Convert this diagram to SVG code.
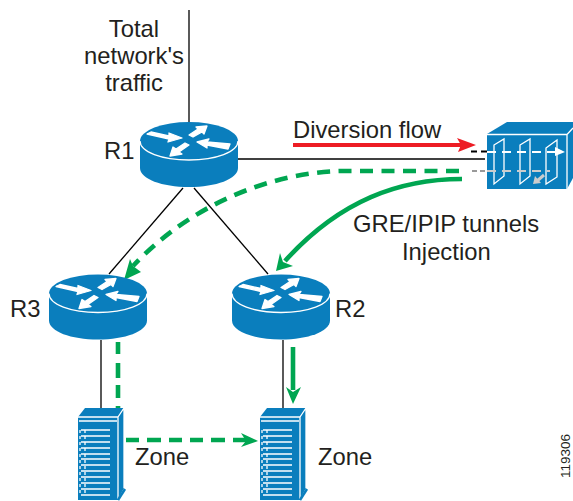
<svg xmlns="http://www.w3.org/2000/svg" width="573" height="501" viewBox="0 0 573 501">
<style>
text{font-family:"Liberation Sans",Arial,sans-serif;font-size:23.8px;fill:#231f20}
.m{text-anchor:middle}
.l{stroke:#000;stroke-width:1.3;fill:none}
.g{stroke:#00a651;stroke-width:4.600;fill:none}
.d{stroke-dasharray:13 8.500}
.b{fill:#0a7ebd}
.w{fill:#fff;stroke:#fff;stroke-width:1.300;stroke-linejoin:round}
.wl{stroke:#fff;stroke-width:1.3;fill:none}
.f{fill:#00a651}
</style>
<defs>
<g id="router">
<path class="b" d="M-49 0V27C-49 38-27 46 0 46S49 38 49 27V0Z"/>
<ellipse class="b" cx="0" cy="0" rx="49" ry="19"/>
<path class="wl" d="M-49 0C-49 11-27 19 0 19S49 11 49 0"/>
<path class="w" d="M-42-7L-38-9-20-5-20-8-7-3-21 1-20-2Z"/>
<path class="w" d="M0-6L4-4 13-9 15-7 18-15 7-14 9-12Z"/>
<path class="w" d="M8 1L20-2 18 1 41 3 39 8 18 4 18 7Z"/>
<path class="w" d="M-19 15L-16 6-13 8-4 2 0 4-10 11-7 13Z"/>
</g>
<g id="server">
<path class="b" d="M0 9L7 0H46L40 9Z"/>
<path class="b" d="M40 9L46 0V80L40 91Z"/>
<rect class="b" y="9" width="40" height="83"/>
<path class="wl" d="M0 9H40V91M40 9L46 0M46 0V80M1 13H39"/>
<path class="wl" d="M3 22H32M3 28H32M3 34H32M3 40H32M3 46H32M3 51H32M3 57H32M3 63H32M3 69H32M3 75H32M3 81H32M3 87H32"/>
<path class="wl" d="M2 22V87M7 22V87" stroke-dasharray="3 3"/>
<path d="M40 92L47 81" stroke="#0a7ebd" stroke-width="2.500" fill="none"/>
</g>
</defs>
<g id="connectors">
<path class="l" d="M189 10V124"/>
<path class="l" d="M238 159H485"/>
<path class="l" d="M183 188L109 274"/>
<path class="l" d="M194 188L268 274"/>
<path class="l" d="M101 340V408"/>
<path class="l" d="M283 340V408"/>
<path d="M293 145H462" stroke="#ed1c24" stroke-width="4.200" fill="none"/>
<path d="M476 145L457 138 461 145 458 152Z" fill="#ed1c24"/>
<path d="M471 151.500H488" stroke="#000" stroke-width="2" stroke-dasharray="6 4" fill="none"/>
<path d="M472 171H488" stroke="#999" stroke-width="2" stroke-dasharray="5 3" fill="none"/>
<path d="M209 195L214 201" stroke="#fff" stroke-width="9" fill="none"/>
<path class="g d" d="M459 171H340C270 173 190 205 133 266"/>
<path class="f" d="M124 280L130 259 133 266 141 272Z"/>
<path class="g" d="M462 179C400 179 340 200 285 261"/>
<path class="f" d="M276 271L280 253 283 262 293 266Z"/>
<path class="g" d="M118 342V354M118 363V378M118 385V398M118 406V408"/>
<path class="g" d="M293 347V390"/>
<path class="f" d="M293 404L286 387 293 392 301 387Z"/>
<path class="g" d="M126 440H139M147 440H161M169 440H182M190 440H203M211 440H225M233 440H246"/>
<path class="f" d="M258 441L241 433 246 441 241 447Z"/>
</g>
<g id="R1" transform="translate(189 141)"><use href="#router"/></g>
<g id="R3" transform="translate(98 293.500)"><use href="#router"/></g>
<g id="R2" transform="translate(281 293.500)"><use href="#router"/></g>
<g id="appliance">
<path class="b" d="M487 134L507 122H573V178L567 189H487Z"/>
<path class="wl" d="M487 134.500H567V189M567 134.500L573 128"/>
<path class="wl" d="M494 145L504 139V176L494 184ZM520 145L530 139V176L520 184ZM546 148L557 140V177L546 184Z"/>
<path d="M487 152H556" stroke="#fff" stroke-width="2" stroke-dasharray="9 6" fill="none"/>
<path d="M487 171H550" stroke="#ccc" stroke-width="2" stroke-dasharray="9 6" fill="none"/>
<path d="M555 147L565 152 555 156Z" fill="#fff"/>
<path d="M544 175L537 181" stroke="#ccc" stroke-width="3" fill="none"/>
<path d="M533 184L535 176 541 183Z" fill="#ccc"/>
</g>
<g id="Zone1" transform="translate(78 408)"><use href="#server"/></g>
<g id="Zone2" transform="translate(260 408)"><use href="#server"/></g>
<g id="labels">
<text x="134" y="37" class="m">Total</text>
<text x="134" y="64" class="m">network's</text>
<text x="134" y="91" class="m">traffic</text>
<text x="104" y="159">R1</text>
<text x="293" y="138">Diversion flow</text>
<text x="353" y="232">GRE/IPIP tunnels</text>
<text x="402" y="260">Injection</text>
<text x="10" y="317">R3</text>
<text x="335" y="317">R2</text>
<text x="135" y="465">Zone</text>
<text x="318" y="465">Zone</text>
<text transform="translate(570 478) rotate(-90)" style="font-size:13.500px">119306</text>
</g>
</svg>
